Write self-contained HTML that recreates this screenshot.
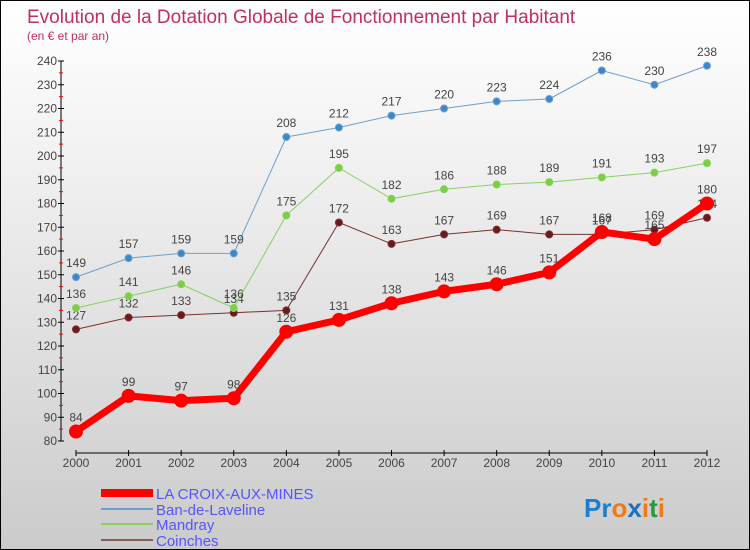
<!DOCTYPE html>
<html><head><meta charset="utf-8"><style>
body{margin:0}
#c{width:750px;height:550px;position:relative;box-sizing:border-box;border:1px solid #000;background:linear-gradient(#fff,#f3f3f3 25%,#cbcbcb);font-family:"Liberation Sans",sans-serif;overflow:hidden}
svg{position:absolute;left:0;top:0}
</style></head><body>
<div id="c">
<svg id="s" width="750" height="550">
<text x="26" y="22" font-size="19" fill="#c0305a">Evolution de la Dotation Globale de Fonctionnement par Habitant</text>
<text x="26" y="39" font-size="12" fill="#c0305a">(en € et par an)</text>
<g id="legend">
<line x1="100" y1="492" x2="152" y2="492" stroke="#f00" stroke-width="8"/>
<text x="155" y="498" font-size="15" fill="#55f">LA CROIX-AUX-MINES</text>
<line x1="100" y1="508" x2="152" y2="508" stroke="#6fa0cc" stroke-width="2"/>
<text x="155" y="514" font-size="15" fill="#55f">Ban-de-Laveline</text>
<line x1="100" y1="523" x2="152" y2="523" stroke="#88d060" stroke-width="2"/>
<text x="155" y="529" font-size="15" fill="#55f">Mandray</text>
<line x1="100" y1="539" x2="152" y2="539" stroke="#8a5a5a" stroke-width="2"/>
<text x="155" y="545" font-size="15" fill="#55f">Coinches</text>
</g>
<text x="583" y="516" font-size="26" font-weight="bold"><tspan fill="#1a7fd0">Pr</tspan><tspan fill="#f07a10">o</tspan><tspan fill="#1a6fc0">x</tspan><tspan fill="#f07a10">i</tspan><tspan fill="#2a9a40">t</tspan><tspan fill="#f07a10">i</tspan></text>
</svg>
</div>
<script>
const years=[2000,2001,2002,2003,2004,2005,2006,2007,2008,2009,2010,2011,2012];
const yTicks=[80,90,100,110,120,130,140,150,160,170,180,190,200,210,220,230,240];
const laCroix=[84,99,97,98,126,131,138,143,146,151,168,165,180];
const ban=[149,157,159,159,208,212,217,220,223,224,236,230,238];
const mandray=[136,141,146,136,175,195,182,186,188,189,191,193,197];
const coinches=[127,132,133,134,135,172,163,167,169,167,167,169,174];
const NS="http://www.w3.org/2000/svg",s=document.getElementById('s');
const X=i=>75+i*(706-75)/(years.length-1);
const Y=v=>440-(v-80)*(380/160);
function mk(t,a,p){const e=document.createElementNS(NS,t);for(const k in a)e.setAttribute(k,a[k]);(p||s).appendChild(e);return e;}
const ax=mk('g',{});


mk('line',{x1:60,y1:Y(240),x2:60,y2:Y(80),stroke:'#000'},ax);
mk('line',{x1:75,y1:452,x2:706,y2:452,stroke:'#000'},ax);
yTicks.forEach(v=>{
 mk('line',{x1:57,y1:Y(v),x2:63,y2:Y(v),stroke:'#000'},ax);
 if(v<240) mk('line',{x1:58,y1:Y(v+5),x2:62,y2:Y(v+5),stroke:'#f00'},ax);
 const t=mk('text',{x:56,y:Y(v)+4,'font-size':12,fill:'#444','text-anchor':'end'},ax);t.textContent=v;
 
 
});
years.forEach((y,i)=>{
 mk('line',{x1:X(i),y1:449,x2:X(i),y2:455,stroke:'#000'},ax);
 const t=mk('text',{x:X(i),y:466,'font-size':12,fill:'#444','text-anchor':'middle'},ax);t.textContent=y;
 
 
});
function series(data,color,w,r,dot,name){
 const g=mk('g',{});
 
 
 mk('polyline',{points:data.map((v,i)=>X(i)+','+Y(v)).join(' '),fill:'none',stroke:color,'stroke-width':w,'stroke-linejoin':'round'},g);
 data.forEach((v,i)=>{
  const c=mk('circle',{cx:X(i),cy:Y(v),r:r,fill:dot,stroke:color,'stroke-width':1},g);
  
  
  const t=mk('text',{x:X(i),y:Y(v)-10,'font-size':12,fill:'#444','text-anchor':'middle'},g);t.textContent=v;
  
  
 });
}
series(coinches,'#7a3030',1,3.5,'#6a1a1a','coinches');
series(mandray,'#88d060',1,3.5,'#7cd040','mandray');
series(ban,'#6fa0cc',1,3.5,'#3a88cc','ban');
series(laCroix,'#f00',7,6.5,'#f00','la-croix');
</script>
</body></html>
